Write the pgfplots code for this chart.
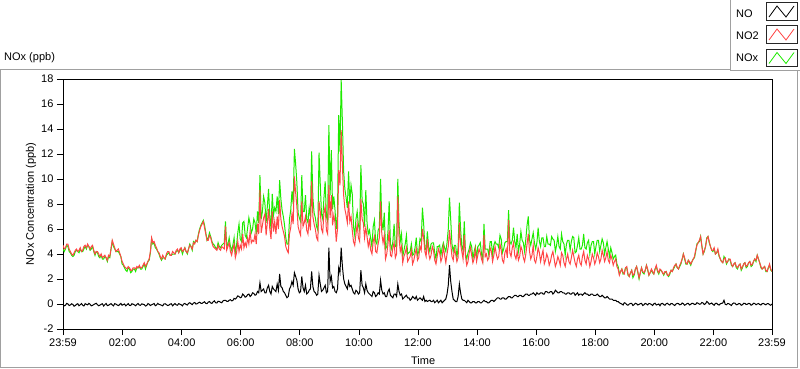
\documentclass[border=0pt]{standalone}
\usepackage{pgfplots}
\pgfplotsset{compat=1.18}
\usepackage{pgfplotstable}
\usepackage{fontspec}
\setmainfont{Liberation Sans}
\definecolor{noxgreen}{RGB}{30,235,0}
\definecolor{no2red}{RGB}{255,70,70}
\definecolor{framegray}{RGB}{160,160,160}

\pgfplotstableread{
t no no2 nox
0 -0.05 4.7 4.4
2.5 -0.15 4.4 4.2
5 -0.10 4.5 4.4
7.5 0.05 4.8 4.7
10 0.00 4.8 4.6
12.5 -0.12 4.4 4.2
15 -0.08 4.2 4.1
17.5 0.02 4.0 3.9
20 -0.03 3.9 3.8
22.5 -0.18 4.1 3.9
25 -0.12 4.3 4.2
27.5 -0.02 4.4 4.3
30 0.02 4.2 4.2
32.5 -0.14 4.3 4.1
35 -0.06 4.5 4.4
37.5 0.04 4.2 4.2
40 -0.10 4.3 4.2
42.5 -0.16 4.6 4.4
45 0.03 4.7 4.6
47.5 -0.03 4.5 4.4
50 -0.07 4.8 4.7
52.5 0.05 4.6 4.6
55 -0.02 4.4 4.3
57.5 -0.15 4.6 4.4
60 -0.11 4.7 4.6
62.5 -0.04 4.3 4.2
65 0.01 4.0 3.9
67.5 0.06 4.2 4.2
70 -0.06 4.2 4.1
72.5 -0.14 4.0 3.8
75 -0.09 3.8 3.7
77.5 -0.02 4.0 3.9
80 0.02 3.7 3.6
82.5 -0.16 3.8 3.6
85 -0.05 3.9 3.8
87.5 0.04 3.7 3.7
90 -0.13 3.5 3.4
92.5 -0.10 3.9 3.8
95 -0.03 3.8 3.7
97.5 0.03 4.4 4.4
100 -0.07 5.1 5.0
102.5 -0.15 4.8 4.6
105 0.03 4.5 4.4
107.5 -0.01 4.2 4.2
110 -0.08 4.3 4.2
112.5 -0.13 4.4 4.2
115 -0.04 4.1 4.0
117.5 0.05 3.8 3.8
120 -0.10 3.4 3.2
122.5 -0.05 3.2 3.1
125 0.00 3.0 2.9
127.5 -0.15 2.9 2.7
130 -0.06 2.8 2.6
132.5 0.03 3.0 2.9
135 -0.11 2.9 2.8
137.5 -0.12 2.7 2.5
140 0.02 2.7 2.6
142.5 -0.02 2.9 2.8
145 -0.07 2.9 2.8
147.5 -0.14 2.8 2.6
150 -0.03 3.0 2.9
152.5 0.04 2.9 2.9
155 -0.09 3.1 3.0
157.5 -0.10 2.9 2.8
160 0.01 2.9 2.8
162.5 -0.02 3.1 3.0
165 -0.05 3.3 3.2
167.5 -0.16 3.0 2.8
170 -0.12 3.2 3.1
172.5 0.03 3.4 3.4
175 -0.02 3.6 3.5
177.5 -0.12 4.2 4.1
180 -0.06 5.3 5.2
182.5 -0.02 4.9 4.8
185 0.04 5.0 4.9
187.5 -0.14 4.7 4.5
190 -0.08 4.5 4.4
192.5 0.05 4.2 4.2
195 -0.03 4.1 4.0
197.5 -0.06 3.8 3.7
200 -0.10 3.6 3.5
202.5 -0.15 3.9 3.7
205 0.01 3.7 3.7
207.5 0.02 3.6 3.6
210 -0.05 4.0 3.9
212.5 -0.12 4.2 4.0
215 -0.09 4.2 4.1
217.5 -0.01 3.9 3.9
220 0.02 3.9 3.9
222.5 -0.14 4.2 4.0
225 -0.04 4.1 4.0
227.5 0.04 4.0 4.0
230 -0.07 4.3 4.2
232.5 -0.10 4.4 4.3
235 0.03 4.1 4.1
237.5 -0.02 4.4 4.3
240 -0.06 4.5 4.4
242.5 -0.15 4.2 4.0
245 0.00 4.3 4.3
247.5 0.05 4.5 4.5
250 -0.04 4.2 4.2
252.5 -0.08 4.1 4.0
255 0.05 4.4 4.4
257.5 0.10 4.7 4.8
260 0.02 4.6 4.6
262.5 -0.05 4.4 4.3
265 0.08 4.9 5.0
267.5 0.12 4.8 4.9
270 0.00 5.1 5.1
272.5 0.02 5.0 5.0
275 0.10 5.5 5.6
277.5 0.15 5.9 6.0
280 0.06 6.2 6.3
282.5 0.05 6.4 6.5
285 0.12 6.6 6.7
287.5 0.18 6.1 6.3
290 0.05 5.6 5.7
292.5 0.03 5.1 5.1
295 0.15 5.1 5.3
297.5 0.20 5.5 5.7
300 0.08 5.3 5.4
302.5 0.05 4.9 5.0
305 0.18 4.6 4.8
307.5 0.25 4.5 4.7
310 0.10 4.4 4.5
312.5 0.08 4.3 4.4
315 0.22 4.7 4.9
317.5 0.20 4.4 4.6
320 0.14 4.3 4.5
322.5 0.10 4.6 4.7
325 0.25 4.5 4.8
327.5 0.30 4.4 4.9
330 0.30 6.2 6.6
332.5 0.22 4.3 4.6
335 0.20 4.6 4.8
337.5 0.30 4.9 5.3
340 0.35 4.2 4.6
342.5 0.25 3.9 4.3
345 0.28 4.4 4.7
347.5 0.45 4.8 5.3
350 0.40 3.7 4.1
352.5 0.50 4.1 4.7
355 0.65 5.0 5.7
357.5 0.60 4.2 6.4
360 0.50 4.7 5.2
362.5 0.55 4.4 5.0
365 0.80 5.6 6.5
367.5 0.70 4.5 6.6
370 0.55 4.9 5.5
372.5 0.60 4.6 5.3
375 0.75 5.3 6.1
377.5 0.80 4.8 6.9
380 0.60 5.8 6.4
382.5 0.70 4.9 5.7
385 0.90 5.1 6.0
387.5 0.85 5.0 6.8
390 0.70 5.6 6.5
392.5 0.75 4.8 5.6
395 1.00 6.4 7.4
397.5 0.90 5.6 6.5
400 1.70 9.1 10.3
402.5 1.00 5.7 6.8
405 1.10 6.3 7.4
407.5 1.20 6.9 8.6
410 0.90 7.2 8.1
412.5 0.90 5.5 6.5
415 1.30 6.5 7.8
417.5 1.50 7.6 9.2
420 1.00 6.0 7.0
422.5 0.80 5.2 6.0
425 1.40 7.4 8.8
427.5 1.20 5.8 7.1
430 1.10 6.6 7.7
432.5 1.00 5.6 7.4
435 1.60 7.0 8.6
437.5 1.10 6.0 7.2
440 2.40 8.3 9.9
442.5 1.40 6.8 8.4
445 1.30 6.2 7.5
447.5 1.00 5.8 7.0
450 0.90 5.4 6.3
452.5 0.70 4.6 5.3
455 0.50 4.3 4.8
457.5 0.60 4.1 4.8
460 1.20 5.6 6.8
462.5 1.40 6.1 7.5
465 1.80 7.2 9.0
467.5 1.50 6.4 8.0
470 2.50 10.2 12.4
472.5 2.20 8.9 11.2
475 1.90 7.8 9.7
477.5 1.20 6.2 7.3
480 0.90 5.8 6.9
482.5 1.00 5.5 6.6
485 2.20 8.2 10.3
487.5 1.30 6.2 7.4
490 1.00 6.5 7.4
492.5 1.50 7.0 8.7
495 0.80 5.9 6.8
497.5 0.90 5.6 6.5
500 1.10 6.8 7.7
502.5 1.20 5.9 7.0
505 2.60 9.8 12.2
507.5 1.40 7.0 8.5
510 1.00 6.4 7.3
512.5 0.90 6.0 6.9
515 0.70 5.3 6.2
517.5 0.80 5.1 5.9
520 2.30 8.2 12.1
522.5 1.60 7.4 9.6
525 1.00 6.0 7.2
527.5 1.10 5.7 6.8
530 1.30 7.3 8.5
532.5 1.50 7.8 9.8
535 0.90 5.9 7.0
537.5 1.00 5.6 6.6
540 4.50 9.5 14.3
542.5 1.80 6.9 8.7
545 2.20 8.7 12.3
547.5 1.30 6.3 7.6
550 1.40 7.1 8.6
552.5 1.00 6.5 7.5
555 0.90 5.0 6.0
557.5 1.20 6.0 7.2
560 2.90 10.7 15.1
562.5 2.50 9.5 12.2
565 4.50 13.9 17.9
567.5 3.00 11.0 14.5
570 2.00 8.7 10.6
572.5 1.60 7.6 9.2
575 1.40 7.1 8.5
577.5 1.20 6.5 7.7
580 1.80 8.2 10.6
582.5 1.40 6.6 8.0
585 1.50 7.0 9.5
587.5 1.20 5.9 8.8
590 0.90 5.0 6.2
592.5 0.80 4.7 5.5
595 1.10 5.6 6.8
597.5 1.00 6.4 7.4
600 0.80 5.3 6.3
602.5 0.90 5.0 5.9
605 2.70 8.4 11.1
607.5 1.50 6.8 8.3
610 1.30 6.5 8.0
612.5 0.90 5.3 6.2
615 1.60 6.1 9.1
617.5 1.10 5.4 6.5
620 0.90 4.6 5.6
622.5 0.80 5.1 5.9
625 0.70 4.3 5.2
627.5 0.60 4.0 4.6
630 1.00 5.0 6.2
632.5 0.90 5.4 6.7
635 0.60 4.2 5.0
637.5 0.70 4.1 4.8
640 0.90 4.8 5.9
642.5 0.80 5.3 6.1
645 1.90 8.2 10.0
647.5 1.10 5.6 6.7
650 0.80 4.9 5.9
652.5 0.90 5.5 7.3
655 0.60 3.6 4.4
657.5 0.60 4.0 4.6
660 1.00 4.8 5.8
662.5 1.20 5.9 8.2
665 0.70 3.9 4.8
667.5 0.60 3.8 4.4
670 0.50 4.5 5.0
672.5 0.80 4.9 6.4
675 0.80 3.7 4.6
677.5 0.60 4.0 4.6
680 1.60 8.6 10.0
682.5 1.00 5.3 6.4
685 0.70 4.2 5.0
687.5 0.80 4.6 5.6
690 0.40 3.3 3.8
692.5 0.50 3.8 4.3
695 0.60 4.1 4.8
697.5 0.70 4.5 5.5
700 0.50 3.4 4.0
702.5 0.50 3.6 4.1
705 0.30 3.8 4.2
707.5 0.40 4.3 4.8
710 0.60 3.2 3.9
712.5 0.50 3.5 4.0
715 0.40 4.0 4.5
717.5 0.60 4.4 5.3
720 0.30 3.5 3.9
722.5 0.40 3.7 4.2
725 0.50 4.6 5.2
727.5 0.40 4.3 5.0
730 0.30 6.0 7.7
732.5 0.60 5.3 6.4
735 0.20 4.2 4.5
737.5 0.30 3.8 4.3
740 0.20 5.2 5.8
742.5 0.25 4.1 4.6
745 0.30 3.6 4.2
747.5 0.20 3.9 4.8
750 0.20 4.6 4.9
752.5 0.30 4.3 4.9
755 0.10 3.5 4.1
757.5 0.20 3.2 3.6
760 0.30 3.8 4.6
762.5 0.10 4.4 4.6
765 0.20 4.1 4.7
767.5 0.30 3.4 3.9
770 0.10 3.7 4.5
772.5 0.20 4.6 4.9
775 0.30 3.9 4.5
777.5 0.40 3.3 4.2
780 0.80 4.0 4.9
782.5 1.50 4.6 6.0
785 3.10 5.9 8.5
787.5 1.80 4.8 6.7
790 1.00 3.8 4.8
792.5 0.40 3.5 4.2
795 0.30 4.4 4.7
797.5 0.20 4.0 4.7
800 0.20 3.4 3.7
802.5 0.60 3.7 4.5
805 1.60 6.5 8.1
807.5 0.90 4.8 6.0
810 0.40 4.2 4.6
812.5 0.30 3.6 4.3
815 0.30 5.5 6.6
817.5 0.20 3.8 4.0
820 0.10 3.1 3.6
822.5 0.30 3.4 4.1
825 0.20 4.1 4.4
827.5 0.10 4.5 4.9
830 0.10 3.9 4.6
832.5 0.20 3.3 3.6
835 0.20 3.6 4.2
837.5 0.10 4.4 4.6
840 0.10 3.4 3.7
842.5 0.20 3.9 4.6
845 0.20 4.4 4.7
847.5 0.10 4.1 4.9
850 0.10 3.6 4.0
852.5 0.20 3.3 3.5
855 0.30 5.5 6.4
857.5 0.20 3.8 4.4
860 0.20 4.0 4.4
862.5 0.10 3.5 4.4
865 0.10 3.7 3.9
867.5 0.20 4.5 5.0
870 0.30 4.2 5.0
872.5 0.30 3.4 3.9
875 0.20 3.9 4.7
877.5 0.30 4.6 5.0
880 0.40 4.0 4.8
882.5 0.50 3.6 4.8
885 0.50 3.8 4.5
887.5 0.40 4.8 5.5
890 0.40 4.3 5.2
892.5 0.50 3.5 4.1
895 0.50 3.3 4.4
897.5 0.40 4.1 4.9
900 0.40 4.4 5.0
902.5 0.50 3.7 5.0
905 0.60 6.7 7.5
907.5 0.60 4.1 5.0
910 0.50 3.8 4.8
912.5 0.50 4.5 5.1
915 0.60 4.9 6.1
917.5 0.70 3.9 5.0
920 0.70 3.6 4.5
922.5 0.60 4.2 5.6
925 0.60 3.5 4.2
927.5 0.70 3.8 4.8
930 0.70 4.6 5.8
932.5 0.60 4.3 5.1
935 0.60 3.7 4.9
937.5 0.70 3.4 4.2
940 0.80 4.0 5.2
942.5 0.80 4.8 6.3
945 0.70 5.6 7.0
947.5 0.70 4.2 5.1
950 0.80 3.6 4.7
952.5 0.80 3.9 5.2
955 0.90 4.7 5.7
957.5 0.80 3.5 4.9
960 0.70 3.3 4.4
962.5 0.90 3.8 4.9
965 0.80 4.5 6.1
967.5 0.80 4.1 5.0
970 0.90 3.4 4.6
972.5 0.90 3.9 5.3
975 0.80 4.3 5.3
977.5 0.80 3.2 4.6
980 1.00 3.5 4.6
982.5 1.00 4.0 5.4
985 0.90 3.7 4.8
987.5 0.90 3.1 4.8
990 1.00 3.4 4.7
992.5 1.00 3.9 5.4
995 0.80 4.2 5.2
997.5 0.90 3.6 5.1
1000 1.10 3.0 4.2
1002.5 1.00 3.3 4.7
1005 0.90 3.8 5.4
1007.5 0.90 3.5 4.6
1010 1.00 3.1 4.4
1012.5 1.00 4.1 5.6
1015 0.90 3.9 5.0
1017.5 0.90 3.3 4.8
1020 0.80 3.0 3.9
1022.5 0.80 3.6 4.8
1025 0.90 4.0 5.1
1027.5 0.90 3.4 5.1
1030 0.80 3.2 4.3
1032.5 0.80 3.7 5.0
1035 0.90 4.3 5.4
1037.5 0.90 3.8 5.3
1040 0.70 3.3 4.1
1042.5 0.80 3.0 4.2
1045 0.90 3.6 4.7
1047.5 0.70 3.9 5.3
1050 0.80 3.3 4.4
1052.5 0.80 3.1 4.4
1055 0.70 3.8 4.7
1057.5 0.80 4.2 5.6
1060 0.90 3.5 4.5
1062.5 0.80 3.2 4.4
1065 0.80 3.9 4.9
1067.5 0.70 3.6 5.1
1070 0.70 3.0 4.0
1072.5 0.80 3.4 4.7
1075 0.80 4.0 5.0
1077.5 0.70 3.7 5.0
1080 0.70 3.2 4.0
1082.5 0.70 3.5 4.6
1085 0.80 4.1 5.1
1087.5 0.70 3.8 5.1
1090 0.60 3.3 4.2
1092.5 0.60 3.6 4.7
1095 0.70 4.3 5.2
1097.5 0.60 3.9 4.9
1100 0.50 3.4 4.0
1102.5 0.50 3.7 4.5
1105 0.60 4.2 5.0
1107.5 0.50 3.5 4.4
1110 0.40 3.3 3.8
1112.5 0.40 3.9 4.5
1115 0.40 3.6 4.1
1117.5 0.30 3.1 3.6
1120 0.30 3.4 3.8
1122.5 0.30 3.6 3.9
1125 0.20 3.0 3.2
1127.5 0.20 2.8 3.0
1130 0.10 2.3 2.4
1132.5 0.05 2.6 2.6
1135 0.00 2.8 2.8
1137.5 -0.08 2.5 2.4
1140 0.10 2.4 2.5
1142.5 0.06 2.9 2.9
1145 -0.05 3.0 2.9
1147.5 -0.10 2.4 2.3
1150 0.00 2.2 2.2
1152.5 0.04 2.5 2.5
1155 0.05 2.7 2.7
1157.5 -0.12 2.3 2.1
1160 -0.05 2.4 2.3
1162.5 0.06 2.8 2.8
1165 0.02 3.0 3.0
1167.5 -0.08 2.6 2.5
1170 -0.03 2.1 2.0
1172.5 0.03 2.5 2.5
1175 0.05 2.9 2.9
1177.5 -0.12 2.6 2.5
1180 -0.06 2.5 2.4
1182.5 0.05 2.7 2.7
1185 0.00 3.1 3.1
1187.5 -0.07 2.8 2.7
1190 0.04 2.3 2.3
1192.5 0.02 2.5 2.5
1195 -0.04 2.8 2.7
1197.5 -0.12 2.6 2.5
1200 0.02 2.4 2.4
1202.5 0.06 2.8 2.8
1205 -0.08 3.1 3.0
1207.5 -0.04 2.7 2.6
1210 0.00 2.5 2.4
1212.5 -0.14 2.8 2.7
1215 0.03 2.7 2.7
1217.5 0.05 2.5 2.5
1220 -0.05 2.4 2.3
1222.5 -0.10 2.6 2.5
1225 0.02 2.6 2.6
1227.5 0.06 2.3 2.3
1230 -0.03 2.3 2.2
1232.5 -0.08 2.5 2.4
1235 0.04 2.7 2.7
1237.5 0.03 2.6 2.6
1240 -0.06 2.9 2.8
1242.5 -0.12 3.1 3.0
1245 0.00 3.2 3.2
1247.5 0.05 2.9 2.9
1250 0.03 2.8 2.8
1252.5 -0.06 3.1 3.0
1255 -0.04 3.3 3.2
1257.5 0.08 3.6 3.6
1260 0.02 4.0 4.0
1262.5 -0.10 3.7 3.6
1265 -0.05 3.3 3.2
1267.5 0.04 3.2 3.2
1270 0.05 3.5 3.5
1272.5 -0.08 3.4 3.3
1275 -0.02 3.2 3.1
1277.5 0.06 3.4 3.4
1280 0.04 3.6 3.6
1282.5 -0.04 3.8 3.7
1285 -0.03 4.3 4.2
1287.5 0.10 4.7 4.8
1290 0.06 4.9 4.9
1292.5 -0.02 5.1 5.0
1295 0.00 5.4 5.4
1297.5 0.12 4.6 4.7
1300 0.08 4.0 4.0
1302.5 -0.04 4.3 4.2
1305 0.02 4.6 4.6
1307.5 0.20 5.2 5.3
1310 0.12 5.4 5.4
1312.5 -0.02 5.0 4.9
1315 0.03 4.6 4.6
1317.5 0.08 4.3 4.3
1320 -0.02 4.3 4.2
1322.5 -0.10 4.5 4.4
1325 0.05 4.0 4.0
1327.5 0.06 4.1 4.1
1330 -0.04 4.4 4.3
1332.5 -0.08 3.9 3.8
1335 0.02 3.6 3.6
1337.5 0.05 3.4 3.4
1340 0.08 3.3 3.3
1342.5 0.30 3.6 3.8
1345 -0.03 3.7 3.6
1347.5 -0.06 3.3 3.2
1350 0.04 3.4 3.4
1352.5 0.02 3.6 3.6
1355 -0.05 3.6 3.5
1357.5 -0.12 3.2 3.1
1360 0.03 3.0 3.0
1362.5 0.08 3.2 3.2
1365 0.06 3.3 3.3
1367.5 -0.06 3.0 2.9
1370 -0.04 2.9 2.8
1372.5 0.04 3.1 3.1
1375 0.02 3.2 3.2
1377.5 -0.10 2.8 2.7
1380 -0.06 3.0 2.9
1382.5 0.06 3.2 3.2
1385 0.05 3.3 3.3
1387.5 -0.04 3.0 2.9
1390 -0.02 3.1 3.0
1392.5 0.05 3.3 3.3
1395 0.03 3.4 3.4
1397.5 -0.10 3.1 3.0
1400 -0.05 3.2 3.1
1402.5 0.06 3.4 3.4
1405 0.04 3.6 3.6
1407.5 -0.06 3.5 3.4
1410 0.00 3.9 3.9
1412.5 0.04 3.6 3.6
1415 -0.04 3.3 3.3
1417.5 -0.08 3.0 2.9
1420 0.03 2.8 2.8
1422.5 0.05 2.9 2.9
1425 -0.02 3.0 3.0
1427.5 -0.06 2.7 2.6
1430 0.02 2.6 2.6
1432.5 0.03 2.9 2.9
1435 -0.05 3.2 3.1
1437.5 -0.10 2.8 2.7
1440 0.00 2.6 2.6
}\datatable

\begin{document}
\begin{tikzpicture}[x=1pt,y=1pt,font=\fontsize{11}{13}\selectfont]
\useasboundingbox (0,0) rectangle (800,-369);
\draw[framegray, line width=1pt] (0.5,-69.5) rectangle (797.5,-367.5);
\fill[white] (730,1) rectangle (801,-70);
\draw[framegray, line width=1pt] (730.5,1) -- (730.5,-70.5) -- (801,-70.5);
\node[anchor=west, inner sep=0pt] at (4,-58) {NOx (ppb)};
\begin{axis}[
  at={(63pt,-329pt)}, anchor=south west,
  scale only axis, width=709pt, height=250pt,
  xmin=0, xmax=1440, ymin=-2, ymax=18,
  xtick={0,121,241,361,481,601,721,841,961,1081,1201,1321,1440},
  xticklabels={23:59,02:00,04:00,06:00,08:00,10:00,12:00,14:00,16:00,18:00,20:00,22:00,23:59},
  minor x tick num=7,
  ytick={-2,0,2,4,6,8,10,12,14,16,18},
  yticklabels={-2,0,2,4,6,8,10,12,14,16,18},
  tick pos=left, tick align=outside,
  major tick length=6pt, minor tick length=3pt,
  every tick/.style={black, line width=0.8pt},
  axis line style={black, line width=1pt},
  xlabel={Time}, ylabel={NOx Concentration (ppb)},
  xlabel style={at={(axis description cs:0.508,-0.128)}, anchor=center},
  ylabel style={at={(axis description cs:-0.045,0.5)}, anchor=center},
  clip=true,
]
\addplot[noxgreen, line width=1pt] table[x=t,y=nox]{\datatable};
\addplot[no2red, line width=1pt] table[x=t,y=no2]{\datatable};
\addplot[black, line width=1pt] table[x=t,y=no]{\datatable};
\end{axis}
\node[anchor=west, inner sep=0pt] at (736,-14) {NO};
\node[anchor=west, inner sep=0pt] at (736,-36) {NO2};
\node[anchor=west, inner sep=0pt] at (736,-58) {NOx};
\draw[black!85, line width=0.8pt] (766,-2.5) rectangle (797,-20);
\draw[black!85, line width=0.8pt] (766,-25.5) rectangle (797,-43);
\draw[black!85, line width=0.8pt] (766,-49) rectangle (797,-66.5);
\draw[black, line width=0.8pt] (769,-17) -- (777,-6) -- (786,-17) -- (794,-6);
\draw[no2red, line width=0.8pt] (769,-40) -- (777,-29) -- (786,-40) -- (794,-29);
\draw[noxgreen, line width=0.8pt] (769,-63.5) -- (777,-52.5) -- (786,-63.5) -- (794,-52.5);
\end{tikzpicture}
\end{document}
